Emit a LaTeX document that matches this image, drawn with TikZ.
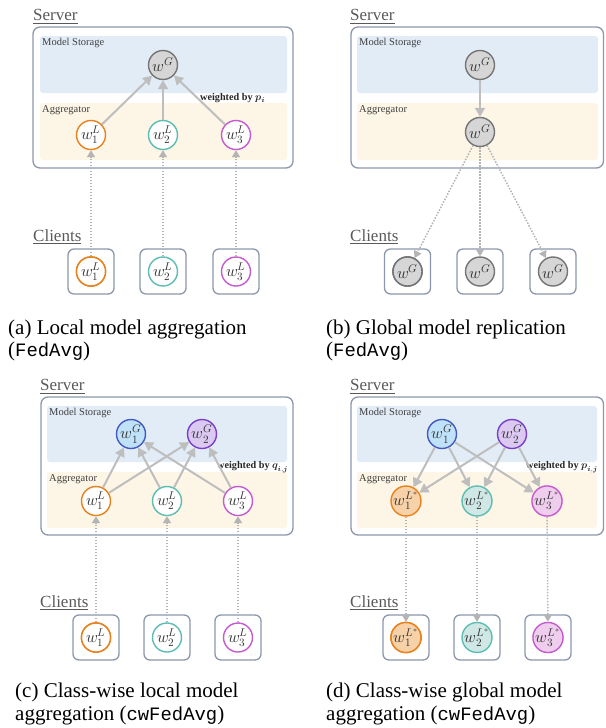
\documentclass[tikz,border=0pt]{standalone}
\usepackage{unicode-math}
\setmainfont{Liberation Serif}
\setmonofont[Scale=0.9]{Liberation Mono}
\setmathfont{Latin Modern Math}
\usetikzlibrary{arrows.meta}

\definecolor{cFrame}{HTML}{8D97AB}
\definecolor{cStorage}{HTML}{E2ECF7}
\definecolor{cAgg}{HTML}{FDF5E5}
\definecolor{cOrange}{HTML}{E8821E}
\definecolor{cOrangeF}{HTML}{F7D2A9}
\definecolor{cTeal}{HTML}{5DBDB3}
\definecolor{cTealF}{HTML}{CFE8E5}
\definecolor{cMag}{HTML}{C45BCF}
\definecolor{cMagF}{HTML}{EFCDEC}
\definecolor{cGlobD}{HTML}{757575}
\definecolor{cGlobF}{HTML}{D6D6D6}
\definecolor{cBlue}{HTML}{4559C3}
\definecolor{cBlueF}{HTML}{C0E2F8}
\definecolor{cPurp}{HTML}{7A3FCB}
\definecolor{cPurpF}{HTML}{DCC9F1}
\definecolor{cArrow}{HTML}{BEBEBE}
\definecolor{cDot}{HTML}{B4B4B4}
\definecolor{cHead}{HTML}{595959}
\definecolor{cZoneText}{HTML}{404040}

\tikzset{
  mnode/.style={circle, minimum size=29pt, inner sep=0pt, line width=1.4pt,
    font=\fontsize{16}{18}\selectfont, text=black!80},
  locone/.style={mnode, draw=cOrange, fill=white},
  loctwo/.style={mnode, draw=cTeal, fill=white},
  locthree/.style={mnode, draw=cMag, fill=white},
  updone/.style={mnode, draw=cOrange, fill=cOrangeF},
  updtwo/.style={mnode, draw=cTeal, fill=cTealF},
  updthree/.style={mnode, draw=cMag, fill=cMagF},
  glob/.style={mnode, draw=cGlobD, fill=cGlobF},
  globone/.style={mnode, draw=cBlue, fill=cBlueF},
  globtwo/.style={mnode, draw=cPurp, fill=cPurpF},
  flow/.style={draw=cArrow, line width=2pt, -{Triangle[length=9pt,width=10pt]}},
  dotflow/.style={draw=cDot, line width=1.5pt, dash pattern=on 1.5pt off 1.5pt,
    -{Triangle[length=7pt,width=8pt]}},
  serverbox/.style={draw=cFrame, line width=1.3pt, fill=white, rounded corners=7pt},
  clientframe/.style={draw=cFrame, line width=1.3pt, fill=white, rounded corners=6pt},
  storagezone/.style={fill=cStorage, rounded corners=3pt},
  aggzone/.style={fill=cAgg, rounded corners=3pt},
  zonelabel/.style={anchor=west, inner sep=0pt, font=\fontsize{10.5}{12}\selectfont, text=cZoneText},
  headtext/.style={anchor=base west, inner sep=0pt, font=\fontsize{17}{20}\selectfont, text=cHead},
  captext/.style={anchor=base west, inner sep=0pt, font=\fontsize{21}{24}\selectfont},
  weightlabel/.style={anchor=west, inner sep=0pt, font=\bfseries\fontsize{10.2}{12}\selectfont, text=black!85},
}

% rounded frame of 46 x 45 around a client node
\newcommand{\clientframeat}[1]{%
  \draw[clientframe] ([shift={(-23,-22.5)}]#1.center) rectangle ([shift={(23,22.5)}]#1.center);}

\begin{document}
\begin{tikzpicture}[x=1pt,y=-1pt]
\useasboundingbox (0,0) rectangle (605,728);

% ---------------- (a) local model aggregation ----------------
\node[headtext] (srvA) at (33,20.5) {\underline{Server}};
\draw[serverbox] (33,27) rectangle (293,168);
\fill[storagezone] (40,36) rectangle (287,93);
\fill[aggzone] (40,103) rectangle (287,160);
\node[zonelabel] (msA) at (42,43) {Model Storage};
\node[zonelabel] (agA) at (42,110) {Aggregator};
\node[glob] (gA) at (163,65) {$w^G$};
\node[locone] (lA1) at (91,135) {$w_1^L$};
\node[loctwo] (lA2) at (163,135) {$w_2^L$};
\node[locthree] (lA3) at (236,135) {$w_3^L$};
\node[weightlabel] (wA) at (200,98) {weighted by $\symbfit{p}_{\symbfit{i}}$};
\foreach \i in {1,2,3} \draw[flow] (lA\i) -- (gA);

\node[headtext] (cliA) at (33,241) {\underline{Clients}};
\coordinate (pA1) at (91,271.5);
\coordinate (pA2) at (163,271.5);
\coordinate (pA3) at (236,271.5);
\foreach \i in {1,2,3} \clientframeat{pA\i}
\node[locone] (cA1) at (pA1) {$w_1^L$};
\node[loctwo] (cA2) at (pA2) {$w_2^L$};
\node[locthree] (cA3) at (pA3) {$w_3^L$};
\foreach \i in {1,2,3} \draw[dotflow] (cA\i) -- (lA\i);

\node[captext] (capA1) at (8,334) {(a) Local model aggregation};
\node[captext] (capA2) at (8,356) {(\texttt{FedAvg})};

% ---------------- (b) global model replication ----------------
\node[headtext] (srvB) at (350,20.5) {\underline{Server}};
\draw[serverbox] (351,27) rectangle (603.5,168);
\fill[storagezone] (357,36) rectangle (598,93);
\fill[aggzone] (357,103) rectangle (598,160);
\node[zonelabel] (msB) at (359,43) {Model Storage};
\node[zonelabel] (agB) at (359,110) {Aggregator};
\node[glob] (gB) at (480,65) {$w^G$};
\node[glob] (gB2) at (480,132) {$w^G$};
\draw[flow] (gB) -- (gB2);

\node[headtext] (cliB) at (350,241) {\underline{Clients}};
\coordinate (pB1) at (407.5,271.5);
\coordinate (pB2) at (480,271.5);
\coordinate (pB3) at (553,271.5);
\foreach \i in {1,2,3} \clientframeat{pB\i}
\node[glob] (cB1) at (pB1) {$w^G$};
\node[glob] (cB2) at (pB2) {$w^G$};
\node[glob] (cB3) at (pB3) {$w^G$};
\foreach \i in {1,2,3} \draw[dotflow] (gB2) -- (cB\i);

\node[captext] (capB1) at (326,334) {(b) Global model replication};
\node[captext] (capB2) at (326,356) {(\texttt{FedAvg})};

% ---------------- (c) class-wise local model aggregation ----------------
\node[headtext] (srvC) at (40,390.5) {\underline{Server}};
\draw[serverbox] (41,397) rectangle (293,535);
\fill[storagezone] (47,406) rectangle (287,462);
\fill[aggzone] (47,472) rectangle (287,528);
\node[zonelabel] (msC) at (49,413) {Model Storage};
\node[zonelabel] (agC) at (49,479) {Aggregator};
\node[globone] (gC1) at (131,434) {$w_1^G$};
\node[globtwo] (gC2) at (202,434) {$w_2^G$};
\node[locone] (lC1) at (96,501) {$w_1^L$};
\node[loctwo] (lC2) at (167,501) {$w_2^L$};
\node[locthree] (lC3) at (238,501) {$w_3^L$};
\node[weightlabel] (wC) at (217,467) {weighted by $\symbfit{q}_{\symbfit{i},\symbfit{j}}$};
\foreach \i in {1,2,3} {
  \draw[flow] (lC\i) -- (gC1);
  \draw[flow] (lC\i) -- (gC2);
}

\node[headtext] (cliC) at (40,607) {\underline{Clients}};
\coordinate (pC1) at (96,637.5);
\coordinate (pC2) at (167,637.5);
\coordinate (pC3) at (238,637.5);
\foreach \i in {1,2,3} \clientframeat{pC\i}
\node[locone] (cC1) at (pC1) {$w_1^L$};
\node[loctwo] (cC2) at (pC2) {$w_2^L$};
\node[locthree] (cC3) at (pC3) {$w_3^L$};
\foreach \i in {1,2,3} \draw[dotflow] (cC\i) -- (lC\i);

\node[captext] (capC1) at (15,697) {(c) Class-wise local model};
\node[captext] (capC2) at (15,720) {aggregation (\texttt{cwFedAvg})};

% ---------------- (d) class-wise global model aggregation ----------------
\node[headtext] (srvD) at (350,390.5) {\underline{Server}};
\draw[serverbox] (351,397) rectangle (603.5,535);
\fill[storagezone] (357,406) rectangle (597,462);
\fill[aggzone] (357,472) rectangle (597,528);
\node[zonelabel] (msD) at (359,413) {Model Storage};
\node[zonelabel] (agD) at (359,479) {Aggregator};
\node[globone] (gD1) at (442,434) {$w_1^G$};
\node[globtwo] (gD2) at (512,434) {$w_2^G$};
\node[updone] (lD1) at (406,501) {$w_1^{L^*}$};
\node[updtwo] (lD2) at (477,501) {$w_2^{L^*}$};
\node[updthree] (lD3) at (547,501) {$w_3^{L^*}$};
\node[weightlabel] (wD) at (526,467) {weighted by $\symbfit{p}_{\symbfit{i},\symbfit{j}}$};
\foreach \i in {1,2,3} {
  \draw[flow] (gD1) -- (lD\i);
  \draw[flow] (gD2) -- (lD\i);
}

\node[headtext] (cliD) at (350,607) {\underline{Clients}};
\coordinate (pD1) at (406,637.5);
\coordinate (pD2) at (477,637.5);
\coordinate (pD3) at (548,637.5);
\foreach \i in {1,2,3} \clientframeat{pD\i}
\node[updone] (cD1) at (pD1) {$w_1^{L^*}$};
\node[updtwo] (cD2) at (pD2) {$w_2^{L^*}$};
\node[updthree] (cD3) at (pD3) {$w_3^{L^*}$};
\foreach \i in {1,2,3} \draw[dotflow] (lD\i) -- (cD\i);

\node[captext] (capD1) at (326,697) {(d) Class-wise global model};
\node[captext] (capD2) at (326,720) {aggregation (\texttt{cwFedAvg})};
\end{tikzpicture}
\end{document}
